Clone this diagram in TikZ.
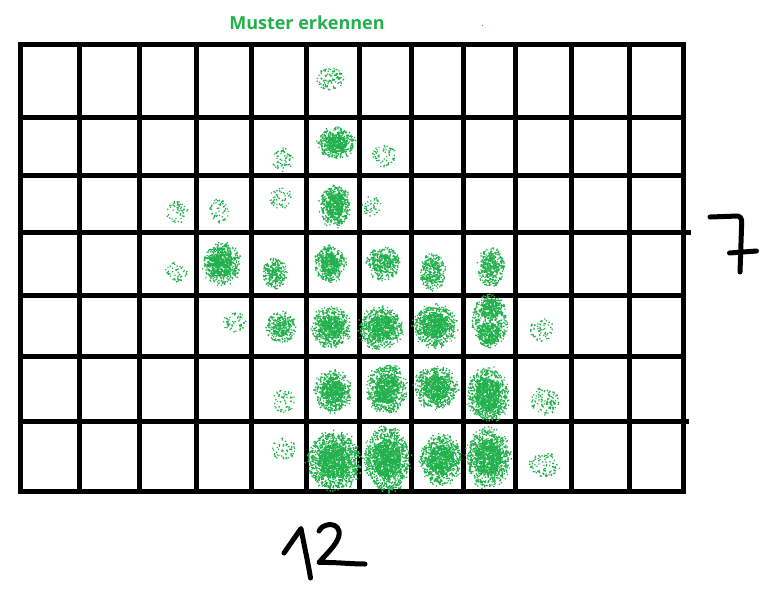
\documentclass[tikz,border=0pt]{standalone}
\usepackage{fontspec}
\newfontfamily\titlefont{Open Sans}
\definecolor{sprayc}{HTML}{22B14C}
\newcount\dotk
\newcount\dotn
\newcommand\sprayblob[5]{% x y rx ry density
 \pgfmathtruncatemacro\dotsn{#5*3.14159*#3*#4}%
 \dotn=\dotsn\relax
 \dotk=0
 \begin{pgfscope}\pgfsetfillcolor{sprayc}%
 \loop
   \pgfmathsetmacro\sang{360*rnd}%
   \pgfmathsetmacro\srad{sqrt(rnd)}%
   \pgfmathsetmacro\spx{#1+#3*\srad*cos(\sang)-0.65}%
   \pgfmathsetmacro\spy{-(#2+#4*\srad*sin(\sang))-0.65}%
   \pgfpathrectangle{\pgfpoint{\spx pt}{\spy pt}}{\pgfpoint{1.3pt}{1.3pt}}%
   \advance\dotk by 1
 \ifnum\dotk<\dotn\repeat
 \pgfusepath{fill}%
 \end{pgfscope}}
\newcommand\fblob[4]{\sprayblob{#1}{#2}{#3}{#4}{0.14}}
\newcommand\mblob[4]{\sprayblob{#1}{#2}{#3}{#4}{0.3}\sprayblob{#1}{#2}{0.6*#3}{0.6*#4}{0.45}}
\newcommand\sblob[4]{\sprayblob{#1}{#2}{1.12*#3}{1.12*#4}{0.08}\sprayblob{#1}{#2}{#3}{#4}{0.33}\sprayblob{#1}{#2}{0.62*#3}{0.62*#4}{0.75}}
\begin{document}
\begin{tikzpicture}[x=1pt,y=-1pt,
  gridline/.style={line width=5pt,line cap=rect,black},
  hand/.style={line width=5pt,line cap=round,line join=round,black}]
\useasboundingbox[fill=white] (0,0) rectangle (778,606);
\pgfmathsetseed{4711}
% grid
\foreach \x in {20.5,79,139.5,196.5,251.5,306.5,359.5,411.5,463.5,515.5,571.5,629.5,683.5}
  \draw[gridline] (\x,44.5) -- (\x,491.5);
\foreach \y in {44.5,117.5,175.5,295,356.5,491.5}
  \draw[gridline] (20.5,\y) -- (683.5,\y);
\draw[gridline] (20.5,232.5) -- (688,232.5);
\draw[gridline] (20.5,421.5) -- (686,421.5);
% title
\node[font=\titlefont\bfseries\fontsize{18}{18}\selectfont,text=sprayc,anchor=base,inner sep=0pt] (title) at (307,29) {Muster erkennen};
\fill[sprayc] (481.5,24.5) rectangle ++(1.5,1.5);
% faint blobs
\sprayblob{330}{79}{14}{11}{0.2}
\fblob{282}{160}{11}{12}
\fblob{384}{156}{12}{11}
\fblob{371}{206}{10}{10}
\fblob{177}{212}{11}{11}
\fblob{219}{211}{10}{12}
\fblob{281}{198}{11}{11}
\fblob{176}{272}{11}{10}
\fblob{235}{322}{12}{10}
\fblob{542}{330}{12}{12}
\fblob{284}{401}{11}{12}
\fblob{284}{449}{12}{11}
\fblob{545}{465}{16}{12}
\sprayblob{545}{401}{14}{14}{0.17}
% medium blobs
\mblob{275}{273}{12}{16}
\mblob{433}{272}{13}{19}
\mblob{491}{267}{14}{20}
\mblob{383}{264}{17}{17}
\mblob{281}{327}{15}{16}
% strong blobs
\sblob{336}{143}{18}{15}
\sblob{335}{206}{15}{20}
\sblob{222}{264}{18}{20}
\sblob{330}{264}{15}{17}
\sblob{331}{327}{19}{19}
\sblob{381}{328}{21}{20}
\sblob{435}{326}{21}{20}
\sprayblob{490}{321}{18}{27}{0.3}
\sprayblob{491}{309}{11}{10}{0.6}
\sprayblob{489}{333}{11}{10}{0.7}
\sblob{333}{391}{18}{20}
\sblob{387}{389}{19}{24}
\sblob{436}{388}{21}{20}
\sblob{488}{395}{20}{26}
\sblob{334}{461}{26}{28}
\sblob{387}{459}{22}{31}
\sblob{441}{460}{20}{24}
\sblob{488}{458}{21}{28}
% handwritten 7
\draw[hand] (710,217) -- (738,216) .. controls (742,217) and (742,221) .. (741.5,228) -- (740,272);
\draw[hand] (729.5,253) -- (756.5,251);
% handwritten 12
\draw[hand] (284,553) -- (301,528.5) .. controls (304,545) and (308,562) .. (310.5,578);
\draw[hand] (319,531) .. controls (322,524) and (336,521) .. (339,531) .. controls (341,541) and (328,552) .. (319,562.5) .. controls (335,562) and (350,564) .. (365,564);
\end{tikzpicture}
\end{document}
